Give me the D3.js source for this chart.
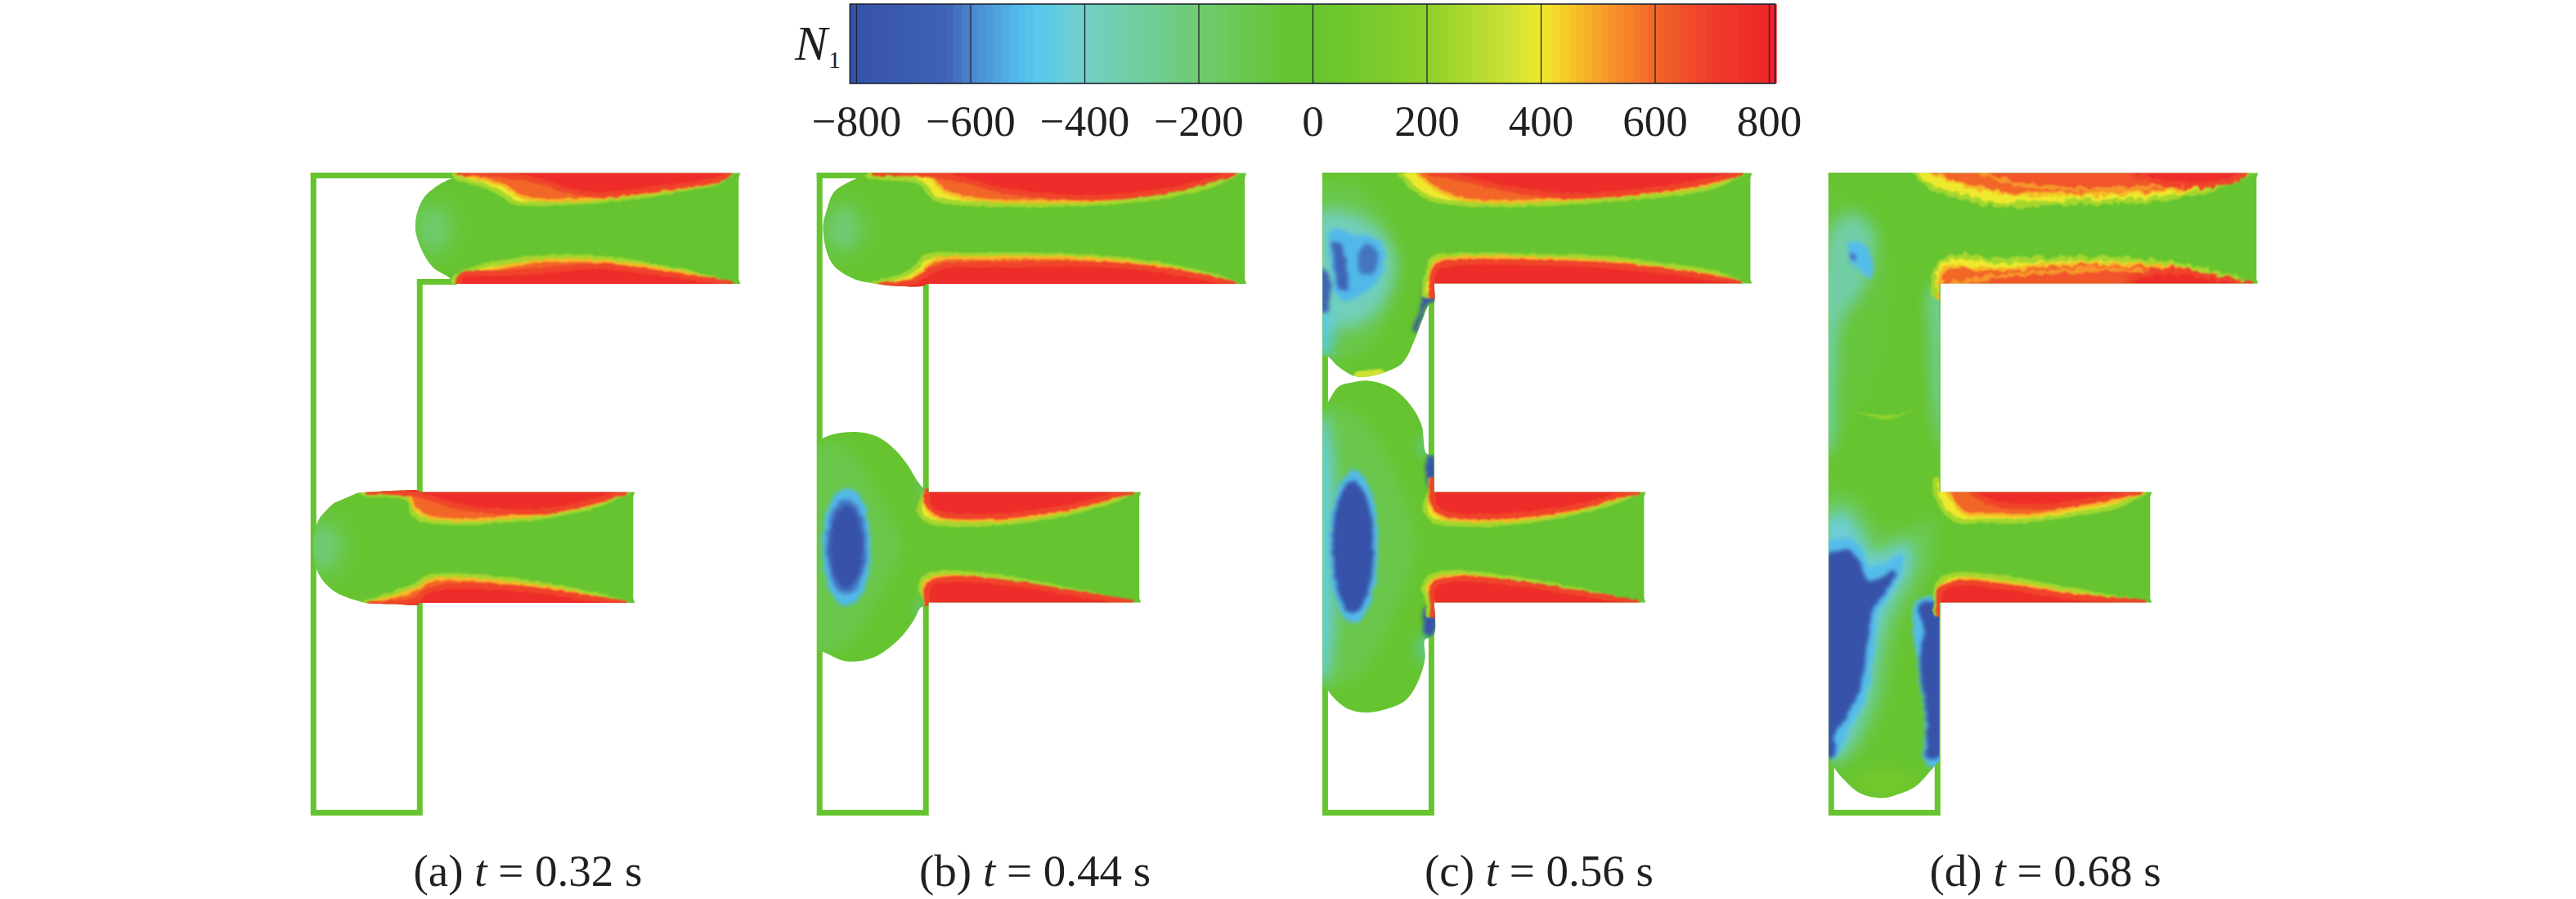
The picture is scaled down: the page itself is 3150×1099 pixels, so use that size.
<!DOCTYPE html>
<html><head><meta charset="utf-8">
<script src="https://cdnjs.cloudflare.com/ajax/libs/d3/7.8.5/d3.min.js"></script>
<style>html,body{margin:0;padding:0;background:#fff}svg{display:block}text{font-family:"Liberation Serif",serif;fill:#231f20}</style>
</head><body><svg id="c" width="3150" height="1099"></svg>
<script>
// ---- colour bar
const barTicks=[-800,-600,-400,-200,0,200,400,600,800];
const stopValues=[-811,-640,-600,-520,-480,-400,-200,-50,0,100,200,350,400,460,520,600,700,811];
const stopColors=["#3551a8","#3f63b5","#4a86cc","#52b8ea","#58c9ec","#72d0c8","#6fcb70","#66c434","#66c430","#78c92c","#8ed02b","#cfe233","#efe92d","#f5c026","#f7962a","#f26628","#ef3b2a","#ee2429"];
// ---- panels
const panelKeys=["a","b","c","d"];
const panelTimes=["0.32","0.44","0.56","0.68"];
const panelLeft=[380.3,999.2,1617.4,2236.3];
const labelLeft=[505.5,1124,1742,2359.5];
// channel frame segments, in channel coordinates
const frameSegs=[[[3,3],[3,782],[133,782],[133,525]],[[3,3],[100,3]],[[133,390],[133,136]]];
const frameStep_a=[[[100,3],[180,3]],[[133,133],[175,133]]];
// wetted regions
const fluid_a=[
[[172,0],[525,0],[523,6],[523,130],[525,135.5],[172,135.5],[170,129],[150,116],[135,93],[127.6,64],[137,32],[157,14],[174,6]],
[[57,391],[100,388.5],[132,388.5],[132,390],[396,390],[394,396],[394,520],[396,525.5],[132,525.5],[132,527.5],[100,527],[70,526],[57,523],[28,511],[9,489],[2.6,457],[9,425],[28,403.6]]];
const fluid_b=[
[[62,1],[62,0],[525,0],[523,6],[523,130],[525,135.5],[134,135.5],[130,138],[92,138],[73,135.5],[44,129],[18,110],[7.4,68],[12,45],[21,23],[44,8.5]],
[[0,330],[6.6,324.5],[21.5,319],[47,316.6],[73,322],[95,338],[110,356],[123,377],[131,386],[136,386],[136,390],[396,390],[394,396],[394,520],[396,525],[136,525],[136,529],[127,531],[118,547],[99,571],[69.5,592],[36,597],[8.5,586],[0,584]]];
const fluid_c=[
[[0,0],[525,0],[523,6],[523,130],[525,135],[136,135],[136,160],[131,160],[121,181.6],[112,205],[97.8,232],[78.8,242.5],[53,249],[38,248],[19.6,237],[5.5,224],[0,224]],
[[0,290],[5.5,282],[19.6,261],[38,255.7],[56.6,254],[86,263.6],[108.4,285],[121,308.6],[127,343],[136,343],[136,390],[395,390],[393,396],[393,520],[395,525],[136,525],[136,565],[125,570.7],[125,594],[115.8,623.6],[101,645],[78.8,655],[52.9,659.6],[30.7,655],[14,642],[5.5,631.5],[0,626]]];
const fluid_d=[
[[0,0],[525,0],[523,6],[523,130],[525,135],[135,135],[135,390],[395,390],[393,396],[393,520],[395,525],[135,525],[135,719],[126,729],[105.8,750],[80,761],[65,764],[39,758.6],[17,740],[6.7,727],[0,713.6]]];
// smooth low-field ellipses: [N1, cx, cy, rx, ry]
const blobs_a=[[-70,150,68,42,48],[-190,150,68,20,26],[-70,16,457,42,50],[-210,16,457,20,28]];
const blobs_b=[[-70,32,68,42,46],[-210,32,68,20,26],[-400,30,457,44,108],[-520,36,457,30,72],[-620,36,457,25,58],[-800,36,457,20,50]];
const blobs_c=[[-400,36,457,46,135],[-520,38,457,30,94],[-800,37,457,25,80]];
const blobs_d=[[90,69,745,40,14]];
// irregular low-field patches: [N1, points]
const patches_a=[];
const patches_b=[
[-110,[[-10,335],[35,335],[75,395],[103,457],[75,520],[35,578],[-10,584]]],
[-440,[[125,383],[136,383],[136,390],[128,392]]],[-440,[[122,530],[136,526],[136,533],[125,538]]]];
const patches_c=[
[-110,[[-10,15],[50,22],[85,70],[95,130],[70,195],[35,225],[-10,215]]],
[-370,[[-10,50],[30,48],[70,70],[88,110],[70,165],[35,188],[-10,185]]],
[-520,[[10,70],[40,75],[72,85],[72,125],[45,150],[20,155],[10,110]]],
[-640,[[14,84],[22,86],[30,125],[30,142],[22,142],[15,115]]],
[-620,[[46,92],[62,88],[68,105],[60,124],[46,122]]],
[-800,[[127,134],[136,134],[136,160],[128,160],[120,182],[114,194],[110,192],[118,170],[122,150]]],
[-640,[[-10,120],[5.5,120],[5.5,168],[-10,168]]],[-480,[[-10,168],[5,170],[8,222],[-10,222]]],
[-110,[[-10,290],[40,292],[85,360],[112,457],[85,545],[40,618],[-10,622]]],
[-430,[[-10,300],[3,300],[3,620],[-10,620]]],
[-800,[[129,346],[136,346],[136,385],[130,385]]],[-800,[[125,531],[136,531],[136,565],[126,565]]],
[-480,[[123,565],[130,565],[127,590],[120,600]]],[-480,[[122,325],[130,325],[130,346],[126,346]]],
[350,[[40,244],[60,241],[72,240],[78,246],[53,252],[38,251]]]];
const patches_d=[
[-70,[[-10,30],[45,40],[75,100],[70,200],[50,265],[20,310],[-10,340]]],
[-320,[[-10,110],[8,60],[30,50],[52,65],[55,105],[38,150],[16,180],[8,260],[2,340],[-10,345]]],
[-510,[[24,84],[40,84],[52,100],[50,130],[38,120],[28,110]]],
[-660,[[26,98],[31,98],[32,106],[27,106]]],
[-330,[[124,140],[136,140],[140,340],[134,320],[127,260],[125,200]]],
[-130,[[-10,395],[30,395],[70,440],[125,425],[125,480],[85,560],[65,660],[25,720],[-10,720]]],
[-420,[[-10,433],[17,412],[39,438],[54,465],[98,451.6],[102,481],[72.5,539],[61,581],[50,645],[13,714],[-10,714]]],
[-510,[[-10,457],[17,446],[36,454],[52,481],[91,467],[82,502],[61,539],[56,576],[46.6,634],[24,682],[6,716],[-10,716]]],
[-800,[[-10,475],[17,460.6],[32,467],[50,499],[82,486],[69,512],[54,534],[46.6,576],[39,629],[20.7,666],[7.8,687],[6,713.6],[-10,713.6]]],
[-510,[[107,523],[140,523],[140,722],[118,722],[118,666],[108,602]]],
[-800,[[112,528],[140,527],[140,706],[122,718],[120,661],[111,602],[116,560]]],
[210,[[32,292],[55,298],[70,301],[85,298],[105,288],[85,295],[70,296],[55,295]]]];
// wall bands: [N1, y just beyond the wall, band edge points]
const bands_a=[
[400,-15,[[172,0],[181,7],[209,14],[239,29],[250,36],[276,37.5],[313,36],[350,34],[387,30],[424,25],[461,18],[498,11],[514,0]]],
[600,-15,[[180,0],[216,9],[239,17],[255,28],[283,33],[350,31],[424,22],[498,10],[512,0]]],
[770,-15,[[182,0],[230,2],[276,9],[313,21],[350,27],[424,19],[498,8],[512,0]]],
[400,150,[[172,135],[176,128.6],[209,114],[239,109],[276,103.6],[331,103],[387,108],[442,118],[512,135]]],
[600,150,[[178,135],[215,120],[250,112],[290,107],[340,107],[400,113],[450,121],[512,135]]],
[770,150,[[180,135],[183,126],[239,122],[294,118],[350,114],[424,122],[512,135]]],
[400,375,[[63,391],[72,393],[120,398],[124,414],[135,423],[165,427],[202,427],[239,424],[276,421],[313,415],[350,406],[386,390]]],
[600,375,[[75,390],[118,393],[126,408],[140,419],[170,424],[202,424],[239,421],[276,418],[313,412],[350,403],[383,390]]],
[770,375,[[70,389],[125,392],[142,396],[170,405],[202,411],[276,414],[313,409],[350,400],[383,390]]],
[400,540,[[65,526],[128,504],[142,495],[176,492],[220,495],[276,502],[331,512],[386,526]]],
[600,540,[[70,526],[128,509],[145,498],[176,496],[220,499],[276,505],[331,515],[383,526]]],
[770,540,[[72,527],[128,522],[140,512],[170,505],[202,505],[276,510],[331,518],[383,526]]]];
const bands_b=[
[400,-15,[[60,0],[64,4],[125,10.6],[144,31],[184,37],[240,38.6],[314,37.6],[388,33],[443,25],[480,15],[514,0]]],
[600,-15,[[77,0],[136,4],[158,23],[203,33],[277,35],[351,33],[424,23],[469,13],[512,0]]],
[770,-15,[[70,0],[136,1.6],[184,9.5],[221,20],[314,30],[388,27],[450,17],[510,0]]],
[400,150,[[66,136],[114,121],[136,102],[184,100.6],[277,100.6],[351,104],[425,113],[480,125],[513,136]]],
[600,150,[[72,137],[117,129],[144,107],[203,104],[314,104],[406,112],[476,126],[511,136]]],
[770,150,[[75,137],[117,133],[136,121],[154,114],[240,112],[351,112],[425,119],[469,127],[510,136]]],
[400,375,[[134,390],[125,412],[136,425],[166,429],[221,428],[295,418],[351,404],[386,390]]],
[600,375,[[132,390],[133,408],[146,421],[180,425],[240,423],[300,414],[350,401],[382,390]]],
[770,375,[[134,390],[136,405],[148,416],[200,420],[260,416],[320,406],[370,392],[384,390]]],
[400,540,[[134,526],[127,507],[132,494],[158,488.6],[221,494],[295,507],[386,526]]],
[600,540,[[134,525],[130,507],[137,497],[160,492],[221,498],[295,510],[384,525]]],
[770,540,[[135,525],[134,508],[142,500],[170,496],[240,502],[310,513],[384,525]]]];
const bands_c=[
[400,-15,[[95,0],[108,15],[130.6,31],[167.6,37],[241.6,38.6],[315.6,35],[389.6,29],[445,23],[482,15],[513,0]]],
[600,-15,[[115,0],[140,20],[175,33],[242,35],[316,31],[390,25],[445,19],[482,11],[510,0]]],
[770,-15,[[130,0],[170,6],[220,18],[300,28],[390,22],[450,14],[510,0]]],
[400,150,[[124,135],[128.7,123],[134,105],[167.6,100.6],[278.6,102],[352.6,105],[426.6,114],[482,123],[513,135]]],
[600,150,[[131,135],[137,110],[160,104],[278,105],[352,109],[426,118],[482,126],[511,135]]],
[770,150,[[133,135],[139,116],[160,110],[278,110],[352,113],[426,121],[482,129],[510,135]]],
[400,375,[[132,390],[125,412],[136,425],[166,429],[221,428],[295,418],[351,404],[386,390]]],
[600,375,[[132,390],[133,408],[146,421],[180,425],[240,423],[300,414],[350,401],[382,390]]],
[770,375,[[134,390],[136,405],[148,416],[200,420],[260,416],[320,406],[370,392],[384,390]]],
[400,540,[[130,526],[124,507],[132,494],[158,488.6],[221,494],[295,507],[386,526]]],
[600,540,[[134,525],[130,507],[137,497],[160,492],[221,498],[295,510],[384,525]]],
[770,540,[[135,525],[134,508],[142,500],[170,496],[240,502],[310,513],[384,525]]]];
const bands_d=[
[400,-15,[[104,0],[120.6,15],[150,25],[205.7,38.6],[280,36],[353.7,35],[409,30.7],[464.7,20],[514,0]]],
[600,-15,[[125,0],[150,10],[210,24],[280,26],[350,25],[410,22],[465,13],[510,0]]],
[640,-15,[[190,0],[230,14],[280,18],[330,20],[380,18],[420,12],[440,0]]],
[770,-15,[[370,0],[400,10],[450,15],[490,9],[510,0]]],
[400,150,[[128,135],[133.6,113],[157.6,102],[205.7,107.5],[279.7,105],[353.7,105],[427.7,113],[483,125],[514,135]]],
[600,150,[[135,135],[145,116],[200,118],[280,112],[354,111],[428,117],[483,128],[512,135]]],
[640,150,[[150,135],[200,127],[280,120],[354,118],[400,123],[440,135]]],
[770,150,[[360,135],[380,124],[428,120],[483,130],[512,135]]],
[400,375,[[130,390],[139,409],[157.6,425],[187,425],[242.7,425],[298,417],[353.7,406.6],[386,390]]],
[600,375,[[145,390],[165,415],[200,418],[250,418],[300,410],[350,401],[385,390]]],
[770,375,[[175,390],[200,403],[260,408],[310,402],[360,393],[380,390]]],
[400,540,[[131,526],[131.7,507],[139,496.6],[157.6,491],[224,496.6],[298,510],[387,526]]],
[600,540,[[134,525],[137,505],[160,497],[224,502],[298,514],[385,525]]],
[770,540,[[135,525],[137,510],[160,501],[224,507],[298,518],[385,525]]]];

const fluids={a:fluid_a,b:fluid_b,c:fluid_c,d:fluid_d};
const blobs={a:blobs_a,b:blobs_b,c:blobs_c,d:blobs_d};
const patches={a:patches_a,b:patches_b,c:patches_c,d:patches_d};
const bands={a:bands_a,b:bands_b,c:bands_c,d:bands_d};

const svg=d3.select("#c");
const color=d3.scaleLinear().domain(stopValues).range(stopColors).clamp(true);
const FONT='"Liberation Serif",serif';

// ---- filters
const defs=svg.append("defs");
const full={filterUnits:"userSpaceOnUse",x:0,y:0,width:3150,height:1099};
function blurF(id,s){const f=defs.append("filter").attr("id",id).attr("color-interpolation-filters","sRGB");Object.entries(full).forEach(([k,v])=>f.attr(k,v));
  f.append("feGaussianBlur").attr("stdDeviation",s);}
blurF("soft",9);
function roughF(id,freq,scale,blur){const f=defs.append("filter").attr("id",id);Object.entries(full).forEach(([k,v])=>f.attr(k,v));
  f.attr("color-interpolation-filters","sRGB");
  f.append("feTurbulence").attr("type","fractalNoise").attr("baseFrequency",freq).attr("numOctaves",2).attr("seed",4).attr("result","n");
  f.append("feDisplacementMap").attr("in","SourceGraphic").attr("in2","n").attr("scale",scale).attr("xChannelSelector","R").attr("yChannelSelector","G").attr("result","d");
  f.append("feGaussianBlur").attr("in","d").attr("stdDeviation",blur);}
roughF("mid",0.12,7,2.6);
roughF("roughA",0.12,4,1.3);
roughF("roughD",0.1,12,1.1);
// halo drawn round each band edge so the steps read as a gradient
const haloColor={400:250,600:470,640:520,770:680};
const haloWidth={400:6,600:4,640:5,770:7};

// ---- colour bar
const barX=d3.scaleLinear().domain([-800,800]).range([1047,2163]);
const barTop=5,barH=97;
const barSteps=d3.range(-811,811,14);
svg.append("g").selectAll("rect").data(barSteps).join("rect")
  .attr("x",d=>barX(d)).attr("y",barTop).attr("width",d=>barX(d+14)-barX(d)+0.6).attr("height",barH)
  .attr("fill",d=>color(d+7));
svg.append("rect").attr("x",barX(-811)).attr("y",barTop).attr("width",barX(811)-barX(-811)).attr("height",barH)
  .attr("fill","none").attr("stroke","#1c2430").attr("stroke-width",1.6);
const axis=d3.axisBottom(barX).tickValues(barTicks).tickSizeInner(barH).tickSizeOuter(0).tickPadding(26)
  .tickFormat(d=>d<0?"\u2212"+Math.abs(d):String(d));
const ax=svg.append("g").attr("transform",`translate(0,${barTop})`).call(axis);
ax.select(".domain").remove();
ax.selectAll(".tick line").attr("stroke","#1c2430").attr("stroke-width",1.3);
ax.selectAll(".tick text").attr("font-family",FONT).attr("font-size",53).attr("fill","#231f20");
svg.append("text").attr("x",972).attr("y",73).attr("font-size",60).attr("font-style","italic").text("N");
svg.append("text").attr("x",1013).attr("y",83).attr("font-size",30).text("1");

// ---- panels
panelKeys.forEach((k,i)=>{
  const x=d3.scaleLinear().domain([0,525]).range([panelLeft[i],panelLeft[i]+525]);
  const y=d3.scaleLinear().domain([0,785.5]).range([211.5,997]);
  const g=svg.append("g").attr("class","panel-"+k);
  const straight=d3.line().x(d=>x(d[0])).y(d=>y(d[1]));
  const smooth=d3.line().x(d=>x(d[0])).y(d=>y(d[1])).curve(d3.curveCatmullRom);
  const smoothClosed=d3.line().x(d=>x(d[0])).y(d=>y(d[1])).curve(d3.curveCatmullRomClosed);
  // long edges are walls and stay straight; runs of short edges are free surface and get smoothed
  function outline(o){
    const runs=[];let cur=[o[0]];
    for(let j=1;j<o.length;j++){
      if(Math.hypot(o[j][0]-o[j-1][0],o[j][1]-o[j-1][1])>45){runs.push(cur);cur=[o[j]];}else cur.push(o[j]);
    }
    runs.push(cur);
    return runs.map((r,j)=>{
      const s=r.length>1?smooth(r):`M${x(r[0][0])},${y(r[0][1])}`;
      return j?s.replace(/^M/,"L"):s;
    }).join("")+"Z";
  }
  const base=color(0);
  const segs=k==="a"?frameSegs.concat(frameStep_a):frameSegs;
  g.append("g").selectAll("path").data(segs).join("path").attr("d",straight)
    .attr("fill","none").attr("stroke",base).attr("stroke-width",7).attr("stroke-linejoin","miter").attr("stroke-linecap","square");
  const outlinePath=fluids[k].map(outline).join("");
  defs.append("clipPath").attr("id","clip-"+k).append("path").attr("d",outlinePath);
  g.append("path").attr("d",outlinePath).attr("fill",base);
  const clipped=g.append("g").attr("clip-path",`url(#clip-${k})`);
  const ell=s=>s.attr("cx",d=>x(d[1])).attr("cy",d=>y(d[2])).attr("rx",d=>x(d[3])-x(0)).attr("ry",d=>y(d[4])-y(0)).attr("fill",d=>color(d[0]));
  const soft=clipped.append("g").attr("filter","url(#soft)");
  soft.selectAll("ellipse").data(blobs[k].filter(b=>b[0]>-500)).join("ellipse").call(ell);
  soft.selectAll("path").data(patches[k].filter(p=>p[0]>-500&&p[0]<100)).join("path")
    .attr("d",d=>smoothClosed(d[1])).attr("fill",d=>color(d[0]));
  const mid=clipped.append("g").attr("filter","url(#mid)");
  mid.selectAll("ellipse").data(blobs[k].filter(b=>b[0]<=-500)).join("ellipse").call(ell);
  mid.selectAll("path").data(patches[k].filter(p=>p[0]<=-500)).join("path")
    .attr("d",d=>smoothClosed(d[1])).attr("fill",d=>color(d[0]));
  const fine=clipped.append("g").attr("filter","url(#roughA)");
  fine.selectAll("path.patch").data(patches[k].filter(p=>p[0]>=100)).join("path").attr("class","patch")
    .attr("d",d=>smoothClosed(d[1])).attr("fill",d=>color(d[0]));
  const drawBands=(sel,list)=>sel.selectAll("path.band").data(list).join("path").attr("class","band")
    .attr("d",d=>{const p=d[2],a=p[0],b=p[p.length-1];
      return smooth(p)+`L${x(b[0])},${y(d[1])}L${x(a[0])},${y(d[1])}Z`;})
    .attr("fill",d=>color(d[0]))
    .attr("stroke",d=>color(haloColor[d[0]])).attr("stroke-width",d=>haloWidth[d[0]]).attr("stroke-linejoin","round");
  // only the top branch of panel d has the mottled, noisy band
  const rough=k==="d"?bands[k].filter(d=>d[1]<200):[];
  drawBands(fine,bands[k].filter(d=>!rough.includes(d)));
  if(rough.length) drawBands(clipped.append("g").attr("filter","url(#roughD)"),rough);
  // caption
  const t=svg.append("text").attr("x",labelLeft[i]).attr("y",1082.7).attr("font-size",55);
  t.append("tspan").text(`(${k}) `);
  t.append("tspan").attr("font-style","italic").text("t");
  t.append("tspan").text(` = ${panelTimes[i]} s`);
});
</script></body></html>
